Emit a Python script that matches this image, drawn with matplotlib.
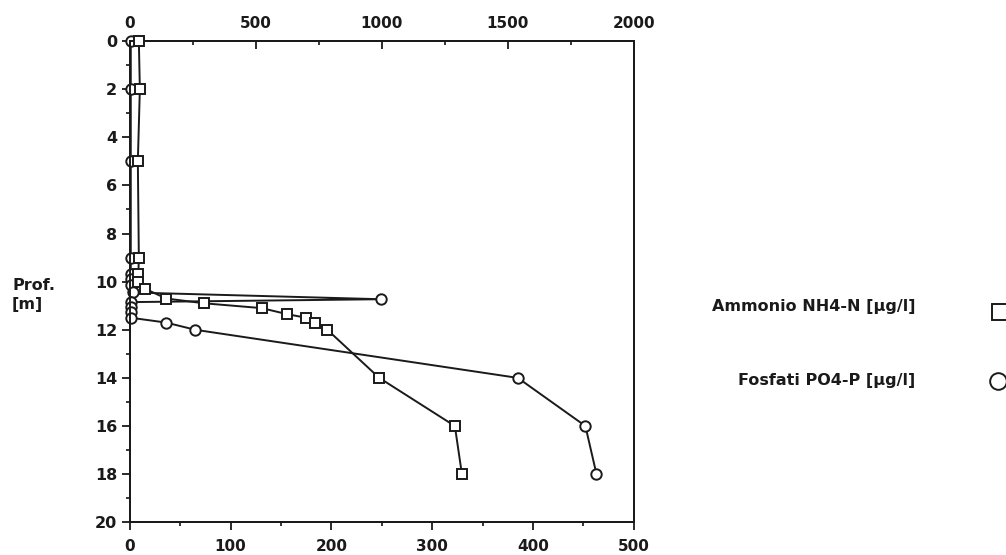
import matplotlib
matplotlib.use("Agg")
import matplotlib.pyplot as plt
from matplotlib.ticker import MultipleLocator
from matplotlib.lines import Line2D

# Ammonio NH4-N [µg/l]  (top axis, 0-2000)
nh4_depth = [0, 2, 5, 9, 9.7, 10.0, 10.3, 10.7, 10.9, 11.1, 11.35, 11.5, 11.7, 12, 14, 16, 18]
nh4_value = [36, 40, 32, 36, 34, 34, 62, 144, 296, 524, 624, 700, 736, 784, 990, 1290, 1318]

# Fosfati PO4-P [µg/l]  (bottom axis, 0-500)
po4_depth = [0, 2, 5, 9, 9.7, 9.9, 10.15, 10.45, 10.73, 10.85, 11.05, 11.25, 11.5, 11.7, 12, 14, 16, 18]
po4_value = [1, 1, 1, 1, 1, 1, 1, 3, 249, 1, 1, 1, 1, 36, 65, 385, 452, 463]

bottom_ticks = [0, 100, 200, 300, 400, 500]
top_ticks = [0, 500, 1000, 1500, 2000]
depth_ticks = [0, 2, 4, 6, 8, 10, 12, 14, 16, 18, 20]

legend_labels = ["Ammonio NH4-N [µg/l]", "Fosfati PO4-P [µg/l]"]

plt.rcParams['font.family'] = ['DejaVu Sans']
fig = plt.figure(figsize=(10.06, 5.55), dpi=100)
ax = fig.add_axes([0.129, 0.059, 0.501, 0.867])
axt = ax.twiny()

ink = "#1a1a1a"
mk = dict(markerfacecolor="white", markeredgecolor=ink, markeredgewidth=1.4, markersize=7.5)

ax.plot(po4_value, po4_depth, color=ink, lw=1.4, marker="o", zorder=3, clip_on=False, **mk)
axt.plot(nh4_value, nh4_depth, color=ink, lw=1.4, marker="s", zorder=3, clip_on=False, **mk)

ax.set_xlim(0, 500)
axt.set_xlim(0, 2000)
ax.set_ylim(20, 0)

ax.set_xticks(bottom_ticks)
axt.set_xticks(top_ticks)
ax.set_yticks(depth_ticks)
ax.xaxis.set_minor_locator(MultipleLocator(50))
axt.xaxis.set_minor_locator(MultipleLocator(250))
ax.yaxis.set_minor_locator(MultipleLocator(1))

for a in (ax, axt):
    for s in a.spines.values():
        s.set_linewidth(1.4)
        s.set_color(ink)

ax.tick_params(axis='x', which='major', direction='out', length=6, width=1.3, pad=6,
               labelsize=11, colors=ink)
ax.tick_params(axis='x', which='minor', direction='out', length=3, width=1.1)
ax.tick_params(axis='y', which='major', direction='out', length=6, width=1.3, pad=3,
               labelsize=11.5, colors=ink)
ax.tick_params(axis='y', which='minor', direction='out', length=3, width=1.1)
axt.tick_params(axis='x', which='major', direction='in', length=6, width=1.3, pad=7,
                labelsize=11, colors=ink)
axt.tick_params(axis='x', which='minor', direction='in', length=3, width=1.1)

for lab in ax.get_xticklabels() + ax.get_yticklabels() + axt.get_xticklabels():
    lab.set_fontweight('bold')

fig.text(0.012, 0.468, "Prof.\n[m]", ha='left', va='center', fontsize=11.5,
         fontweight='bold', color=ink, linespacing=1.3)

# legend
fig.text(0.910, 1 - 307 / 555, legend_labels[0], ha='right', va='center', fontsize=11.5,
         fontweight='bold', color=ink)
fig.text(0.910, 1 - 380 / 555, legend_labels[1], ha='right', va='center', fontsize=11.5,
         fontweight='bold', color=ink)
fig.lines.append(Line2D([0.9945], [1 - 312 / 555], transform=fig.transFigure,
                        marker='s', linestyle='none', markersize=12,
                        markerfacecolor='white', markeredgecolor=ink, markeredgewidth=1.4))
fig.lines.append(Line2D([0.992], [1 - 381 / 555], transform=fig.transFigure,
                        marker='o', linestyle='none', markersize=12,
                        markerfacecolor='white', markeredgecolor=ink, markeredgewidth=1.4))

fig.savefig("out.png", dpi=100, facecolor='white')
